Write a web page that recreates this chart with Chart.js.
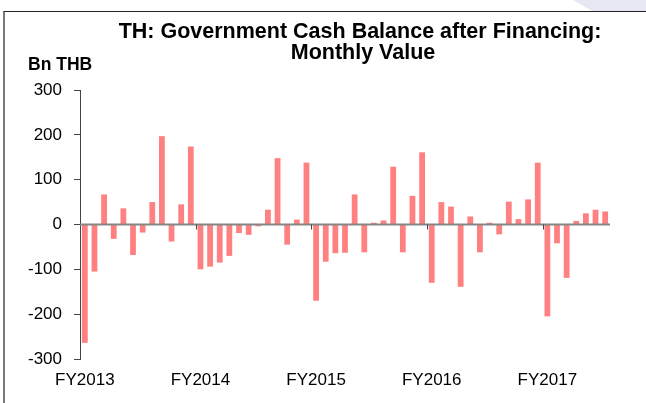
<!DOCTYPE html>
<html>
<head>
<meta charset="utf-8">
<script src="https://cdn.jsdelivr.net/npm/chart.js@4/dist/chart.umd.min.js"></script>
<style>
  html, body { margin: 0; padding: 0; background: #fff; }
  #wrap { position: relative; width: 646px; height: 403px; overflow: hidden; }
  #deco { position: absolute; left: 560px; top: 0; width: 86px; height: 11px; background: #e7e7f3;
          clip-path: polygon(13px 0, 86px 0, 86px 11px, 32px 11px); }
  #frame { position: absolute; left: 3px; top: 11px; width: 660px; height: 420px;
           border-left: 2px solid #7a7a7a; border-top: 1px solid #222; pointer-events: none; }
  canvas { position: absolute; left: 0; top: 0; }
</style>
</head>
<body>
<div id="wrap">
  <div id="deco"></div>
  <canvas id="c" width="646" height="403"></canvas>
  <div id="frame"></div>
</div>
<script>
const titleLines = ['TH: Government Cash Balance after Financing:', 'Monthly Value'];
const unitLabel = 'Bn THB';

const months = [
  '2012-10','2012-11','2012-12','2013-01','2013-02','2013-03','2013-04','2013-05','2013-06','2013-07','2013-08','2013-09',
  '2013-10','2013-11','2013-12','2014-01','2014-02','2014-03','2014-04','2014-05','2014-06','2014-07','2014-08','2014-09',
  '2014-10','2014-11','2014-12','2015-01','2015-02','2015-03','2015-04','2015-05','2015-06','2015-07','2015-08','2015-09',
  '2015-10','2015-11','2015-12','2016-01','2016-02','2016-03','2016-04','2016-05','2016-06','2016-07','2016-08','2016-09',
  '2016-10','2016-11','2016-12','2017-01','2017-02','2017-03','2017-04'
];

const balance = [
  -264, -105, 67, -32, 36, -68, -18, 50, 197, -38, 45, 174,
  -100, -94, -85, -70, -19, -23, -4, 33, 148, -45, 11, 138,
  -170, -83, -64, -63, 67, -62, 4, 9, 129, -62, 64, 161,
  -130, 50, 40, -139, 18, -62, 4, -22, 51, 12, 56, 138,
  -205, -42, -119, 8, 25, 33, 29
];

// fiscal-year labels, placed at the first month (October) of each FY
const fyLabels = {'2012-10': 'FY2013', '2013-10': 'FY2014', '2014-10': 'FY2015', '2015-10': 'FY2016', '2016-10': 'FY2017'};
const yTicks = [-300, -200, -100, 0, 100, 200, 300];

const FONT = 'Liberation Sans, Arial, Helvetica, sans-serif';

const extras = {
  id: 'extras',
  afterDatasetsDraw(chart) {
    const ctx = chart.ctx;
    const x = chart.scales.x, y = chart.scales.y;
    const y0 = y.getPixelForValue(0);
    ctx.save();
    // zero line
    ctx.strokeStyle = '#858585';
    ctx.lineWidth = 2;
    ctx.beginPath();
    ctx.moveTo(chart.chartArea.left, y0);
    ctx.lineTo(chart.chartArea.right, y0);
    ctx.stroke();
    // FY boundary tick marks on the zero line
    ctx.strokeStyle = '#444';
    ctx.lineWidth = 1;
    months.forEach((m, i) => {
      if (i > 0 && fyLabels[m]) {
        const px = Math.round((x.getPixelForValue(i - 1) + x.getPixelForValue(i)) / 2) + 0.5;
        ctx.beginPath();
        ctx.moveTo(px, y0);
        ctx.lineTo(px, y0 + 5);
        ctx.stroke();
      }
    });
    ctx.restore();
  },
  afterDraw(chart) {
    const ctx = chart.ctx;
    ctx.save();
    ctx.fillStyle = '#000';
    // chart title (two centred lines)
    ctx.font = 'bold 21.5px ' + FONT;
    ctx.textAlign = 'center';
    ctx.textBaseline = 'alphabetic';
    ctx.fillText(titleLines[0], 360, 38);
    ctx.fillText(titleLines[1], 363, 59);
    // unit label
    ctx.font = 'bold 17.5px ' + FONT;
    ctx.textAlign = 'left';
    ctx.fillText(unitLabel, 28, 70);
    ctx.restore();
  }
};

new Chart(document.getElementById('c'), {
  type: 'bar',
  data: {
    labels: months,
    datasets: [{
      data: balance,
      backgroundColor: 'rgb(255,128,128)',
      borderWidth: 0,
      barPercentage: 0.6,
      categoryPercentage: 1.0
    }]
  },
  plugins: [extras],
  options: {
    responsive: false,
    animation: false,
    layout: { padding: { left: 20, right: 36, top: 90, bottom: 0 } },
    plugins: {
      legend: { display: false },
      tooltip: { enabled: false },
      title: { display: false }
    },
    scales: {
      x: {
        type: 'category',
        offset: true,
        grid: { display: false, drawTicks: false },
        border: { display: false },
        ticks: {
          autoSkip: false,
          maxRotation: 0,
          minRotation: 0,
          padding: 11,
          color: '#000',
          font: { family: FONT, size: 17 },
          callback: function(v, i) { return fyLabels[months[i]] || ''; }
        },
        afterFit: s => { s.height = 44; }
      },
      y: {
        type: 'linear',
        position: 'left',
        min: -300,
        max: 300,
        afterBuildTicks: s => { s.ticks = yTicks.map(v => ({ value: v })); },
        grid: { drawOnChartArea: false, drawTicks: true, tickLength: 6, tickColor: '#444', color: '#444' },
        border: { display: true, color: '#444', width: 1 },
        ticks: { padding: 12, color: '#000', font: { family: FONT, size: 17 } },
        afterFit: s => { s.width = 60; }
      }
    }
  }
});
</script>
</body>
</html>
